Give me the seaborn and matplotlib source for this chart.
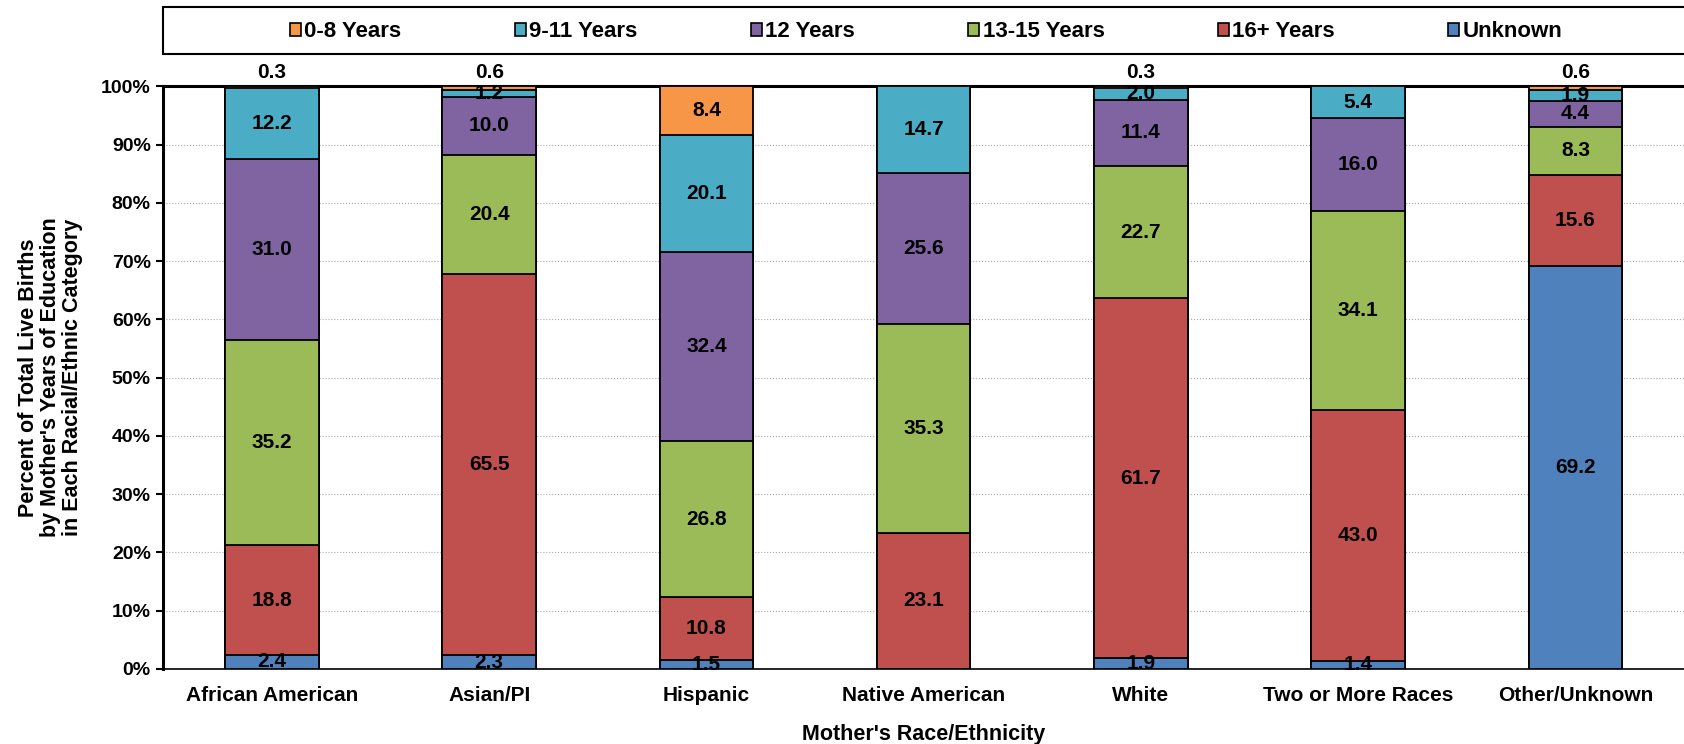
import matplotlib
matplotlib.use("Agg")
import matplotlib.pyplot as plt
from matplotlib.patches import Patch, Rectangle
import seaborn as sns
import numpy as np
import pandas as pd

# Categories and series (percent of births in each group)
races = ["African American", "Asian/PI", "Hispanic", "Native American",
         "White", "Two or More Races", "Other/Unknown"]
edu_levels = ["Unknown", "16+ Years", "13-15 Years", "12 Years", "9-11 Years", "0-8 Years"]
unknown = [2.4, 2.3, 1.5, 0.0, 1.9, 1.4, 69.2]
yrs_16 = [18.8, 65.5, 10.8, 23.1, 61.7, 43.0, 15.6]
yrs_13_15 = [35.2, 20.4, 26.8, 35.3, 22.7, 34.1, 8.3]
yrs_12 = [31.0, 10.0, 32.4, 25.6, 11.4, 16.0, 4.4]
yrs_9_11 = [12.2, 1.2, 20.1, 14.7, 2.0, 5.4, 1.9]
yrs_0_8 = [0.3, 0.6, 8.4, 0.0, 0.3, 0.0, 0.6]

colors = ["#4F81BD", "#C0504D", "#9BBB59", "#8064A2", "#4BACC6", "#F79646"]

vals = np.array([unknown, yrs_16, yrs_13_15, yrs_12, yrs_9_11, yrs_0_8])
# 100% stacked chart: each bar scaled to its total
shares = vals / vals.sum(axis=0) * 100
cum = np.cumsum(shares, axis=0)

sns.set_style("white")
plt.rcParams["font.family"] = ["Liberation Sans", "DejaVu Sans"]
plt.rcParams["font.weight"] = "bold"
for key in ["text.color", "axes.labelcolor", "xtick.color", "ytick.color"]:
    plt.rcParams[key] = "black"

fig = plt.figure(figsize=(16.84, 7.44), dpi=100)
ax = fig.add_axes([0.097, 0.101, 0.903, 0.783])

# draw tallest cumulative first so lower segments sit on top
for i in range(len(edu_levels) - 1, -1, -1):
    df = pd.DataFrame({"race": races, "top": cum[i]})
    sns.barplot(data=df, x="race", y="top", color=colors[i], saturation=1,
                width=0.43, edgecolor="black", linewidth=1.3, ax=ax, zorder=3)

for j in range(len(races)):
    for i in range(len(edu_levels)):
        v = vals[i, j]
        if v == 0:
            continue
        base = cum[i, j] - shares[i, j]
        y = base + shares[i, j] / 2
        if i == len(edu_levels) - 1 and v < 2:
            y = 102.3
        ax.text(j, y, f"{v:.1f}", ha="center", va="center", fontsize=15,
                fontweight="bold", color="black", clip_on=False, zorder=5)

ax.set_ylim(0, 100)
ax.set_xlim(-0.5, len(races) - 0.5)
ax.set_yticks(range(0, 101, 10))
ax.set_yticklabels([f"{t}%" for t in range(0, 101, 10)], fontsize=14, fontweight="bold")
ax.tick_params(axis="x", labelsize=15, length=0, pad=12)
ax.tick_params(axis="y", left=True, length=5, width=1.5, pad=4)
for lab in ax.get_xticklabels():
    lab.set_fontweight("bold")
ax.yaxis.grid(True, linestyle=":", color="#aaaaaa", linewidth=0.8, zorder=0)
ax.set_axisbelow(True)

ax.set_xlabel("Mother's Race/Ethnicity", fontsize=15.5, fontweight="bold", labelpad=14)
ax.set_ylabel("Percent of Total Live Births\nby Mother's Years of Education\nin Each Racial/Ethnic Category",
              fontsize=15.5, fontweight="bold", linespacing=1.05)
ax.yaxis.set_label_coords(-0.053, 0.5)

for side in ["top", "left"]:
    ax.spines[side].set_linewidth(2.2)
    ax.spines[side].set_color("black")
ax.spines["bottom"].set_linewidth(1.2)
ax.spines["bottom"].set_color("black")
ax.spines["right"].set_visible(False)

# legend box running off the right edge, entries in reverse stack order
fig.patches.append(Rectangle((0.097, 0.928), 0.92, 0.062, transform=fig.transFigure,
                             facecolor="white", edgecolor="black", linewidth=1.5))
handles = [Patch(facecolor=colors[i], edgecolor="black", linewidth=1.2, label=edu_levels[i])
           for i in range(len(edu_levels) - 1, -1, -1)]
fig.legend(handles=handles, loc="center", bbox_to_anchor=(0.550, 0.957), ncol=6,
           frameon=False, handlelength=0.5, handleheight=0.5,
           handletextpad=0.15, columnspacing=5.1, prop={"weight": "bold", "size": 16})

fig.savefig("out.png", dpi=100)
